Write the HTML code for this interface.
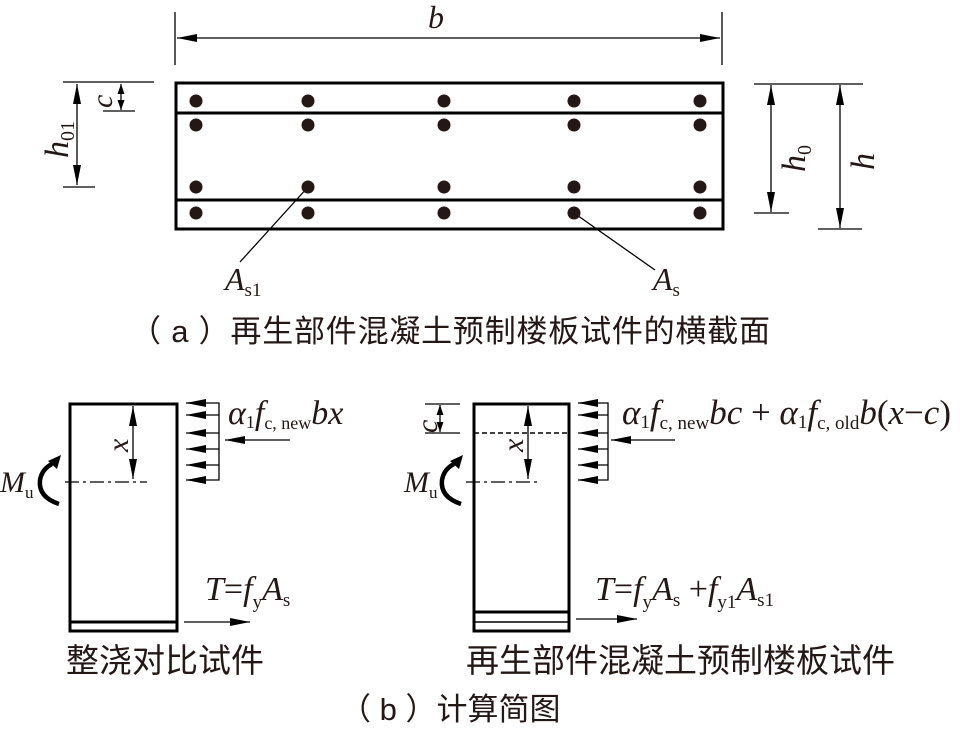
<!DOCTYPE html>
<html><head><meta charset="utf-8"><style>
html,body{margin:0;padding:0;background:#fff;}
svg{display:block;}
.i{font-family:"Liberation Serif",serif;font-style:italic;fill:#231815;}
.r{font-family:"Liberation Serif",serif;fill:#231815;}
.cj{font-family:"Liberation Sans","Noto Sans CJK SC",sans-serif;fill:#231815;}
</style></head><body>
<svg width="960" height="732" viewBox="0 0 960 732" xmlns="http://www.w3.org/2000/svg">
<defs>
<marker id="a" viewBox="0 0 10 10" refX="10" refY="5" markerWidth="20" markerHeight="8" markerUnits="userSpaceOnUse" orient="auto-start-reverse" preserveAspectRatio="none"><path d="M0,0L10,5L0,10z" fill="#000"/></marker>
<marker id="s" viewBox="0 0 10 10" refX="10" refY="5" markerWidth="10" markerHeight="7" markerUnits="userSpaceOnUse" orient="auto-start-reverse" preserveAspectRatio="none"><path d="M0,0L10,5L0,10z" fill="#000"/></marker>
</defs>
<g stroke="#000" fill="none">
<rect x="176" y="83" width="547" height="146" stroke-width="3"/>
<line x1="176" y1="113" x2="723" y2="113" stroke-width="3"/>
<line x1="176" y1="200" x2="723" y2="200" stroke-width="3"/>
<line x1="175" y1="12" x2="175" y2="65" stroke-width="1.3"/>
<line x1="722" y1="12" x2="722" y2="65" stroke-width="1.3"/>
<line x1="177" y1="38" x2="720" y2="38" stroke-width="1.3" marker-start="url(#a)" marker-end="url(#a)"/>
<line x1="63" y1="82" x2="154" y2="82" stroke-width="1.3"/>
<line x1="63" y1="187" x2="95" y2="187" stroke-width="1.3"/>
<line x1="77" y1="84" x2="77" y2="185" stroke-width="1.3" marker-start="url(#a)" marker-end="url(#a)"/>
<line x1="103" y1="111" x2="135" y2="111" stroke-width="1.3"/>
<line x1="121" y1="84" x2="121" y2="110" stroke-width="1.3" marker-start="url(#s)" marker-end="url(#s)"/>
<line x1="754" y1="84" x2="863" y2="84" stroke-width="1.3"/>
<line x1="754" y1="213" x2="789" y2="213" stroke-width="1.3"/>
<line x1="818" y1="229" x2="862" y2="229" stroke-width="1.3"/>
<line x1="771" y1="85" x2="771" y2="212" stroke-width="1.3" marker-start="url(#a)" marker-end="url(#a)"/>
<line x1="840" y1="85" x2="840" y2="228" stroke-width="1.3" marker-start="url(#a)" marker-end="url(#a)"/>
<line x1="308" y1="187" x2="240" y2="262" stroke-width="1.3"/>
<line x1="574" y1="213" x2="655" y2="270" stroke-width="1.3"/>
</g>
<g fill="#231815">
<circle cx="196" cy="101" r="6.5"/><circle cx="308" cy="101" r="6.5"/><circle cx="444" cy="101" r="6.5"/><circle cx="574" cy="101" r="6.5"/><circle cx="700" cy="101" r="6.5"/>
<circle cx="196" cy="125" r="6.5"/><circle cx="308" cy="125" r="6.5"/><circle cx="444" cy="125" r="6.5"/><circle cx="574" cy="125" r="6.5"/><circle cx="700" cy="125" r="6.5"/>
<circle cx="196" cy="187" r="6.5"/><circle cx="308" cy="187" r="6.5"/><circle cx="444" cy="187" r="6.5"/><circle cx="574" cy="187" r="6.5"/><circle cx="700" cy="187" r="6.5"/>
<circle cx="196" cy="213" r="6.5"/><circle cx="308" cy="213" r="6.5"/><circle cx="444" cy="213" r="6.5"/><circle cx="574" cy="213" r="6.5"/><circle cx="700" cy="213" r="6.5"/>
</g>
<text class="i" x="428" y="28" font-size="32">b</text>
<text class="i" transform="translate(68,158) rotate(-90)" font-size="34">h<tspan class="r" font-style="normal" font-size="20" dy="6">01</tspan></text>
<text class="i" transform="translate(112,108) rotate(-90)" font-size="30">c</text>
<text class="i" transform="translate(805,172) rotate(-90)" font-size="34">h<tspan class="r" font-style="normal" font-size="20" dy="6">0</tspan></text>
<text class="i" transform="translate(874,170) rotate(-90)" font-size="34">h</text>
<text class="i" x="225" y="290" font-size="32">A<tspan class="r" font-style="normal" font-size="19" dy="6">s1</tspan></text>
<text class="i" x="653" y="290" font-size="32">A<tspan class="r" font-style="normal" font-size="19" dy="6">s</tspan></text>
<text class="cj" x="130" y="342" font-size="31" textLength="640">（ a ）再生部件混凝土预制楼板试件的横截面</text>

<g stroke="#000" fill="none">
<rect x="70" y="404" width="107" height="227" stroke-width="3"/>
<line x1="70" y1="622" x2="177" y2="622" stroke-width="3"/>
<line x1="65" y1="482" x2="147" y2="482" stroke-width="1.3" stroke-dasharray="14,4,3,4"/>
<line x1="133" y1="406" x2="133" y2="479" stroke-width="1.3" marker-start="url(#a)" marker-end="url(#a)"/>
<polyline points="188,403 219,403 219,480 188,480" stroke-width="1.3"/>
<line x1="219" y1="415" x2="186" y2="415" stroke-width="1.3" marker-end="url(#a)"/>
<line x1="219" y1="433" x2="186" y2="433" stroke-width="1.3" marker-end="url(#a)"/>
<line x1="219" y1="449" x2="186" y2="449" stroke-width="1.3" marker-end="url(#a)"/>
<line x1="219" y1="465" x2="186" y2="465" stroke-width="1.3" marker-end="url(#a)"/>
<line x1="205" y1="403" x2="186" y2="403" stroke-width="1.3" marker-end="url(#a)"/>
<line x1="205" y1="480" x2="186" y2="480" stroke-width="1.3" marker-end="url(#a)"/>
<line x1="290" y1="440" x2="225" y2="440" stroke-width="1.3" marker-end="url(#a)"/>
<line x1="184" y1="622" x2="250" y2="622" stroke-width="1.3" marker-end="url(#a)"/>
<path d="M59,504 Q38,497 40,480 Q42,469 52,464" stroke-width="4.5"/>
<rect x="474" y="404" width="95" height="227" stroke-width="3"/>
<line x1="474" y1="612" x2="569" y2="612" stroke-width="3"/>
<line x1="474" y1="622" x2="569" y2="622" stroke-width="1.5"/>
<line x1="474" y1="433" x2="569" y2="433" stroke-width="1.5" stroke-dasharray="5,3"/>
<line x1="425" y1="404" x2="460" y2="404" stroke-width="1.3"/>
<line x1="425" y1="433" x2="460" y2="433" stroke-width="1.3"/>
<line x1="440" y1="405" x2="440" y2="432" stroke-width="1.3" marker-start="url(#s)" marker-end="url(#s)"/>
<line x1="466" y1="482" x2="540" y2="482" stroke-width="1.3" stroke-dasharray="14,4,3,4"/>
<line x1="528" y1="406" x2="528" y2="479" stroke-width="1.3" marker-start="url(#a)" marker-end="url(#a)"/>
<polyline points="580,403 608,403 608,480 580,480" stroke-width="1.3"/>
<line x1="608" y1="415" x2="578" y2="415" stroke-width="1.3" marker-end="url(#a)"/>
<line x1="608" y1="433" x2="578" y2="433" stroke-width="1.3" marker-end="url(#a)"/>
<line x1="608" y1="449" x2="578" y2="449" stroke-width="1.3" marker-end="url(#a)"/>
<line x1="608" y1="465" x2="578" y2="465" stroke-width="1.3" marker-end="url(#a)"/>
<line x1="598" y1="403" x2="578" y2="403" stroke-width="1.3" marker-end="url(#a)"/>
<line x1="598" y1="480" x2="578" y2="480" stroke-width="1.3" marker-end="url(#a)"/>
<line x1="675" y1="440" x2="611" y2="440" stroke-width="1.3" marker-end="url(#a)"/>
<line x1="576" y1="619" x2="637" y2="619" stroke-width="1.3" marker-end="url(#a)"/>
<path d="M461,504 Q440,497 442,480 Q444,469 454,464" stroke-width="4.5"/>
</g>
<path d="M48,461 L61,455 L57,469z" fill="#000"/>
<path d="M450,461 L463,455 L459,469z" fill="#000"/>
<text class="i" transform="translate(128,452) rotate(-90)" font-size="30">x</text>
<text class="i" transform="translate(523,452) rotate(-90)" font-size="30">x</text>
<text class="i" transform="translate(437,433) rotate(-90)" font-size="30">c</text>
<text class="i" x="0" y="492" font-size="30">M<tspan class="r" font-style="normal" font-size="17" dy="6">u</tspan></text>
<text class="i" x="404" y="492" font-size="30">M<tspan class="r" font-style="normal" font-size="17" dy="6">u</tspan></text>
<text class="i" x="228" y="424" font-size="34">α<tspan class="r" font-style="normal" font-size="18" dy="4">1</tspan><tspan dy="-4">f</tspan><tspan class="r" font-style="normal" font-size="18" dy="5">c, new</tspan><tspan dy="-5">bx</tspan></text>
<text class="i" x="622" y="424" font-size="35">α<tspan class="r" font-style="normal" font-size="19" dy="4">1</tspan><tspan dy="-4">f</tspan><tspan class="r" font-style="normal" font-size="19" dy="5">c, new</tspan><tspan dy="-5">bc</tspan><tspan class="r" font-style="normal"> + </tspan>α<tspan class="r" font-style="normal" font-size="19" dy="4">1</tspan><tspan dy="-4">f</tspan><tspan class="r" font-style="normal" font-size="19" dy="5">c, old</tspan><tspan dy="-5">b</tspan><tspan class="r" font-style="normal">(</tspan>x<tspan class="r" font-style="normal">−</tspan>c<tspan class="r" font-style="normal">)</tspan></text>
<text class="i" x="205" y="600" font-size="34">T<tspan class="r" font-style="normal">=</tspan>f<tspan class="r" font-style="normal" font-size="19" dy="8">y</tspan><tspan dy="-8">A</tspan><tspan class="r" font-style="normal" font-size="19" dy="6">s</tspan></text>
<text class="i" x="595" y="600" font-size="34">T<tspan class="r" font-style="normal">=</tspan>f<tspan class="r" font-style="normal" font-size="19" dy="8">y</tspan><tspan dy="-8">A</tspan><tspan class="r" font-style="normal" font-size="19" dy="6">s</tspan><tspan class="r" font-style="normal" dy="-6"> +</tspan>f<tspan class="r" font-style="normal" font-size="19" dy="8">y1</tspan><tspan dy="-8">A</tspan><tspan class="r" font-style="normal" font-size="19" dy="6">s1</tspan></text>
<text class="cj" x="66" y="672" font-size="33">整浇对比试件</text>
<text class="cj" x="466" y="672" font-size="33">再生部件混凝土预制楼板试件</text>
<text class="cj" x="340" y="720" font-size="31">（ b ）计算简图</text>
</svg>
</body></html>
